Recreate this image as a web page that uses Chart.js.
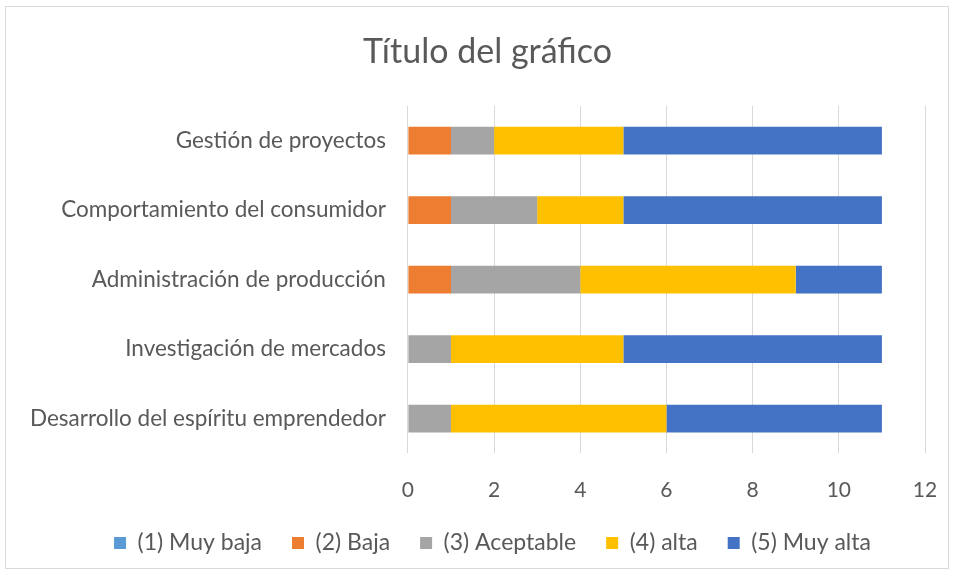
<!DOCTYPE html>
<html>
<head>
<meta charset="utf-8">
<script src="https://cdn.jsdelivr.net/npm/chart.js@4"></script>
<style>
    body { margin: 0; background: #fff; }
    #chart-box {
        position: absolute; left: 5px; top: 6px;
        width: 942px; height: 561px;
        border: 1px solid #d9d9d9;
    }
</style>
</head>
<body>
<div id="chart-box"><canvas id="myChart"></canvas></div>
<script>
// categories, top to bottom
const categories = [
    'Gestión de proyectos',
    'Comportamiento del consumidor',
    'Administración de producción',
    'Investigación de mercados',
    'Desarrollo del espíritu emprendedor'
];
// series
const series_names = ['(1) Muy baja', '(2) Baja', '(3) Aceptable', '(4) alta', '(5) Muy alta'];
const muy_baja = [0, 0, 0, 0, 0];
const baja = [1, 1, 1, 0, 0];
const aceptable = [1, 2, 3, 1, 1];
const alta = [3, 2, 5, 4, 5];
const muy_alta = [6, 6, 2, 6, 5];
const x_ticks = [0, 2, 4, 6, 8, 10, 12];

const colors = ['#5b9bd5', '#ed7d31', '#a5a5a5', '#ffc000', '#4472c4'];
const values = [muy_baja, baja, aceptable, alta, muy_alta];

const font_name = 'Lato, "Open Sans", sans-serif';
const text_color = '#595959';

const datasets = series_names.map(function(name, i) {
    return {
        label: name,
        data: values[i],
        backgroundColor: colors[i],
        borderWidth: 0,
        categoryPercentage: 1.0,
        barPercentage: 0.4
    };
});

// legend padding is wide (for spacing between items) so give some height back
const legend_trim = 25;

// excel centres title and legend a bit right of the canvas centre
const shift_boxes = {
    id: 'shift_boxes',
    beforeLayout: function(chart) {
        const legend = chart.legend;
        if (legend && !legend.patched) {
            const fit = legend.fit;
            legend.fit = function() {
                fit.call(this);
                this.height -= legend_trim;
            };
            legend.patched = true;
        }
    },
    afterLayout: function(chart) {
        chart.titleBlock.left += 34;
        chart.legend.left += 44;
        chart.legend.top -= legend_trim;
    }
};

const config = {
    type: 'bar',
    data: { labels: categories, datasets: datasets },
    plugins: [shift_boxes],
    options: {
        indexAxis: 'y',
        responsive: true,
        maintainAspectRatio: false,
        animation: false,
        layout: { padding: { left: 10, right: 23, top: 0, bottom: 3.5 } },
        plugins: {
            title: {
                display: true,
                text: 'Título del gráfico',
                color: text_color,
                font: { family: font_name, size: 34, weight: 'normal' },
                padding: { top: 25, bottom: 33 }
            },
            legend: {
                position: 'bottom',
                labels: {
                    color: text_color,
                    font: { family: font_name, size: 23 },
                    boxWidth: 12,
                    boxHeight: 12,
                    padding: 30
                }
            },
            tooltip: { enabled: false }
        },
        scales: {
            x: {
                stacked: true,
                min: 0,
                max: 12,
                afterBuildTicks: function(axis) {
                    axis.ticks = x_ticks.map(function(v) { return { value: v }; });
                },
                afterFit: function(axis) {
                    // let the "12" label hang into the right padding
                    axis.paddingRight = 0;
                },
                grid: { color: '#d9d9d9', lineWidth: 1, drawTicks: false },
                border: { display: false },
                ticks: {
                    color: text_color,
                    font: { family: font_name, size: 21 },
                    padding: 24
                }
            },
            y: {
                stacked: true,
                grid: { display: false },
                border: { display: false },
                ticks: {
                    color: text_color,
                    font: { family: font_name, size: 22.5 },
                    padding: 14
                }
            }
        }
    }
};

const myChart = new Chart(document.getElementById('myChart'), config);
</script>
</body>
</html>
